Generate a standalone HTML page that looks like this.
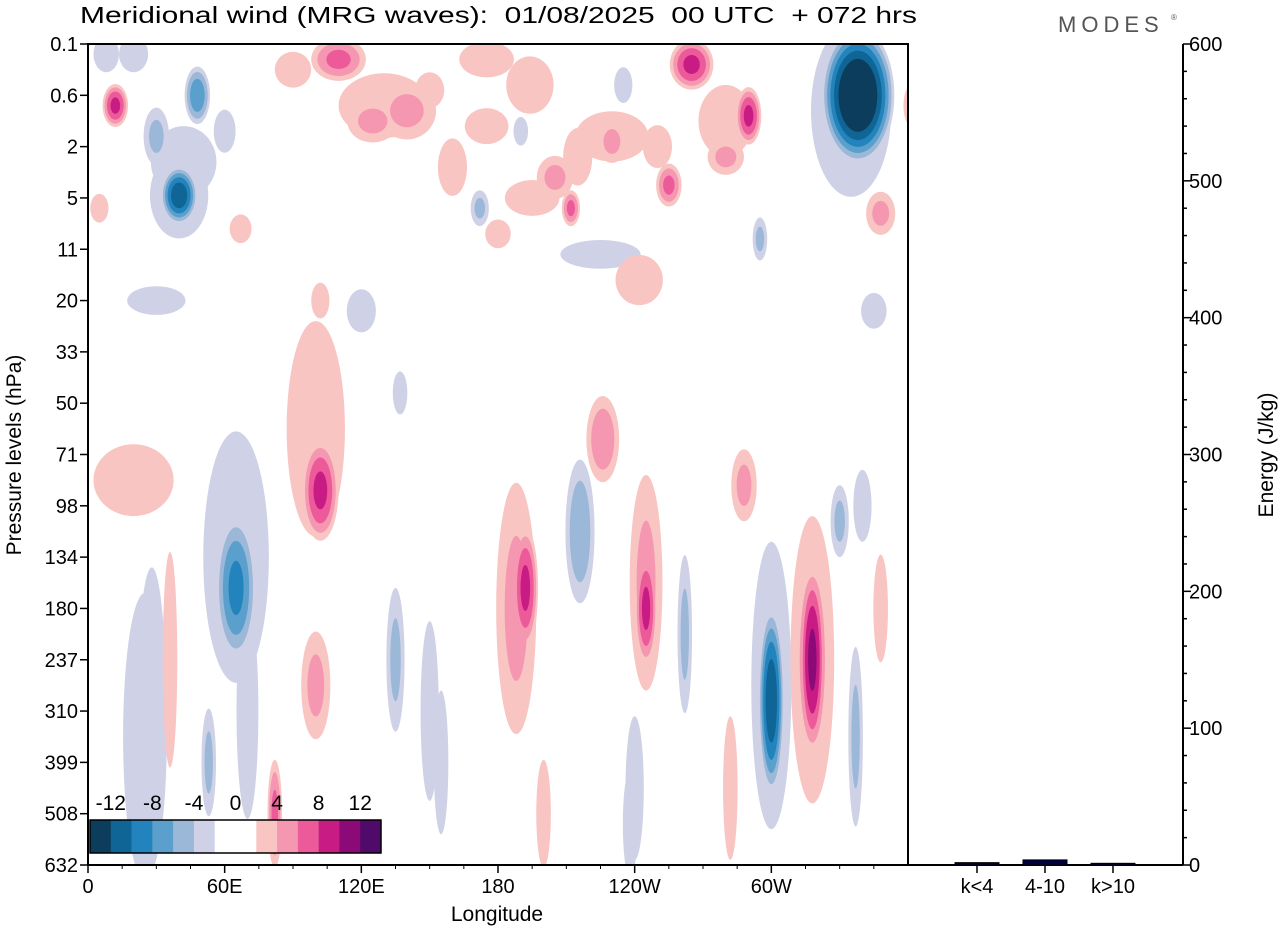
<!DOCTYPE html>
<html><head><meta charset="utf-8">
<style>
body{margin:0;background:#fff;font-family:"Liberation Sans",sans-serif;}
svg text{font-family:"Liberation Sans",sans-serif;fill:#000;}
</style></head>
<body>
<svg id="chart" width="1280" height="930" xmlns="http://www.w3.org/2000/svg">
<defs><clipPath id="plotclip"><rect x="88" y="44" width="820" height="821"/></clipPath></defs>
<text x="80" y="23" font-size="23" textLength="837" lengthAdjust="spacingAndGlyphs" xml:space="preserve">Meridional wind (MRG waves):  01/08/2025  00 UTC  + 072 hrs</text>
<text x="1058" y="32" font-size="22" style="fill:#555;letter-spacing:5px">MODES</text>
<text x="1171" y="20" font-size="8" style="fill:#555">®</text>
<g id="contours" clip-path="url(#plotclip)"></g>
<g id="cbar"></g>
<g id="axes"></g>
<g id="energy"></g>
<text x="497" y="921" font-size="21" text-anchor="middle">Longitude</text>
<text transform="translate(21,455) rotate(-90)" font-size="21" text-anchor="middle">Pressure levels (hPa)</text>
<text transform="translate(1273,455) rotate(-90)" font-size="21" text-anchor="middle">Energy (J/kg)</text>
</svg>
<script>
const levelLabels=["0.1","0.6","2","5","11","20","33","50","71","98","134","180","237","310","399","508","632"];
const lonTicks=[0,60,120,180,240,300];
const lonLabels=["0","60E","120E","180","120W","60W"];
const cbarLabels=["-12","-8","-4","0","4","8","12"];
const negColors=["#cfd2e6","#9bb8d8","#5ba0cc","#2383bd","#0f6596","#0d3d5c"];
const posColors=["#f8c5c2","#f597b1","#ec5a9a","#c81c84","#8c0a78","#500a6a"];
// blobs: longitude (deg), level index, amplitude (m/s), lon spread (deg), level spread
const blobLon=[65,65,102,100,100,135,192,188,216,245,245,226,262,300,300,318,318,288,330,337,340,27,28,36,82,53,20,155,200,238,282,348,
 338,335,40,40,48,30,20,12,110,140,265,290,255,212,194,172,295,225,242,102,30,348,67,5,345,180,235,190,137,160,215,8,362,
 125,150,175,205,230,250,280,60,90,
 130,175,230,280,195,42,25,70,240,150,120];
const blobLvl=[10.6,10,8.7,7.5,12.5,12,10.6,11,9.5,11,10.5,7.7,11.5,12.8,12.5,12,12,8.6,9.3,13.5,9,12,13,12,15,14,8.5,14,15,15.2,14.5,11,
 1.0,1.3,2.95,2.95,1.0,1.8,0.2,1.2,0.3,1.3,0.4,1.4,2.75,3.2,0.8,3.2,3.8,4.1,4.6,5,5,3.3,3.6,3.2,5.2,3.7,0.8,1.7,6.8,2.4,2.2,0.2,1.2,
 1.5,0.9,1.6,2.6,1.9,2.0,2.2,1.7,0.5,
 1.2,0.3,1.8,1.5,3.0,2.3,13.5,13,14.5,13,5.2];
const blobAmp=[-9,-3,9,3,5,-5,9,5,-6,9,5,6,-5,-12,-3,11,5,5,-5,-5,-4,-4,-3,3,7,-5,3,-3,3,-3,3,3,
 -16,-4,-12,-4,-8,-5,-4,9,7,5,9,9,7,7,3,-5,-5,-3,3,3,-3,5,3,3,-3,3,-3,-3,-3,3,3,-3,5,
 5,3,3,5,5,3,5,-3,3,
 3,3,3,3,3,-3,-3,-3,-3,-3,-3];
const blobW=[11,18,10,16,8,5,7,11,8,6,9,9,4,7,11,7,12,7,5,4,5,5,8,4,4,4,22,4,4,4,4,4,
 20,22,10,16,7,7,8,7,15,16,12,7,7,5,13,5,4,22,13,5,16,8,6,5,7,7,5,4,4,8,8,7,5,
 14,8,12,10,8,8,10,6,10,
 25,15,20,15,15,18,12,6,5,5,8];
const blobH=[2,3.5,1.4,3,1.5,2,1.7,3.5,2,1.6,3,1.2,2.2,2.6,4,2.6,4,1,1,2.5,1,2,4,3,1.5,1.5,1,2,1.5,1.5,2,1.5,
 1.9,2.4,0.8,1.2,0.8,0.8,0.5,0.6,0.6,0.8,0.7,0.8,0.6,0.5,0.8,0.5,0.6,0.4,0.7,0.5,0.4,0.6,0.4,0.4,0.5,0.4,0.5,0.4,0.6,0.8,0.8,0.5,0.6,
 0.6,0.5,0.5,0.6,0.6,0.6,0.5,0.6,0.5,
 0.9,0.5,0.7,1.0,0.5,1.0,4,3,2,2.5,0.6];
const energyCats=["k<4","4-10","k>10"];
const energyVals=[1,3,0.5];
const energyTicks=[0,100,200,300,400,500,600];

const NS="http://www.w3.org/2000/svg";
function mk(tag,attrs,parent){const e=document.createElementNS(NS,tag);for(const k in attrs)e.setAttribute(k,attrs[k]);parent.appendChild(e);return e;}
const xLon=l=>88+l/360*820;
const yLvl=v=>44+v*821/16;
const cont=document.getElementById('contours');
function drawLevel(sign,ti,color){
  const t=2*(ti+1);
  for(let i=0;i<blobLon.length;i++){
    const A=Math.abs(blobAmp[i]);
    if(Math.sign(blobAmp[i])!==sign||A<=t)continue;
    const f=Math.sqrt((A-t)/(A-2+0.0001)*0.999);
    const ff=t===2?1:f;
    const e=mk('ellipse',{cx:xLon(blobLon[i]),cy:yLvl(blobLvl[i]),rx:blobW[i]/360*820*ff*0.8,ry:blobH[i]*821/16*ff*0.7,fill:color},cont);
    
    
  }
}
for(let ti=0;ti<6;ti++)drawLevel(-1,ti,negColors[ti]);
for(let ti=0;ti<6;ti++)drawLevel(1,ti,posColors[ti]);

// colorbar
const cb=document.getElementById('cbar');
const cbColors=[...negColors].reverse().concat(["#ffffff","#ffffff"]).concat(posColors);
const bw=291/14;
cbColors.forEach((c,i)=>{const r=mk('rect',{x:90+i*bw,y:820,width:bw+0.3,height:33,fill:c},cb);

});
mk('rect',{x:90,y:820,width:291,height:33,fill:'none',stroke:'#000','stroke-width':1.5},cb);
cbarLabels.forEach((s,i)=>{const t=mk('text',{x:90+(i*2+1)*bw,y:810,'font-size':21,'text-anchor':'middle'},cb);t.textContent=s;

});

// axes
const ax=document.getElementById('axes');
mk('rect',{x:88,y:44,width:820,height:821,fill:'none',stroke:'#000','stroke-width':2},ax);
levelLabels.forEach((s,i)=>{const y=yLvl(i);
mk('line',{x1:80,y1:y,x2:88,y2:y,stroke:'#000','stroke-width':1.5},ax);
const t=mk('text',{x:78,y:y+7,'font-size':20,'text-anchor':'end'},ax);t.textContent=s;

});
lonTicks.forEach((l,i)=>{const x=xLon(l);
mk('line',{x1:x,y1:865,x2:x,y2:873,stroke:'#000','stroke-width':1.5},ax);
for(let k=1;k<4;k++){const xm=xLon(l+k*15);mk('line',{x1:xm,y1:865,x2:xm,y2:869,stroke:'#000','stroke-width':1},ax);}
const t=mk('text',{x:x,y:893,'font-size':20,'text-anchor':'middle'},ax);t.textContent=lonLabels[i];

});

// energy panel
const en=document.getElementById('energy');
const yE=v=>865-v/600*821;
mk('line',{x1:908,y1:865,x2:1183,y2:865,stroke:'#000','stroke-width':2},en);
mk('line',{x1:1183,y1:44,x2:1183,y2:865,stroke:'#000','stroke-width':2},en);
for(let v=0;v<=600;v+=20){const y=yE(v);const maj=v%100===0;
mk('line',{x1:1183,y1:y,x2:1183+(maj?8:4),y2:y,stroke:'#000','stroke-width':1.5},en);}
energyTicks.forEach(v=>{const t=mk('text',{x:1189,y:yE(v)+7,'font-size':20},en);t.textContent=v;

});
energyCats.forEach((c,i)=>{const x=977+i*68;
mk('line',{x1:x,y1:865,x2:x,y2:873,stroke:'#000','stroke-width':1.5},en);
const h=865-yE(energyVals[i]);
const b=mk('rect',{x:x-22,y:865-h-1,width:44,height:h+1,fill:'#000040',stroke:'#000','stroke-width':1},en);


const t=mk('text',{x:x,y:893,'font-size':20,'text-anchor':'middle'},en);t.textContent=c;

});
</script>
</body></html>
